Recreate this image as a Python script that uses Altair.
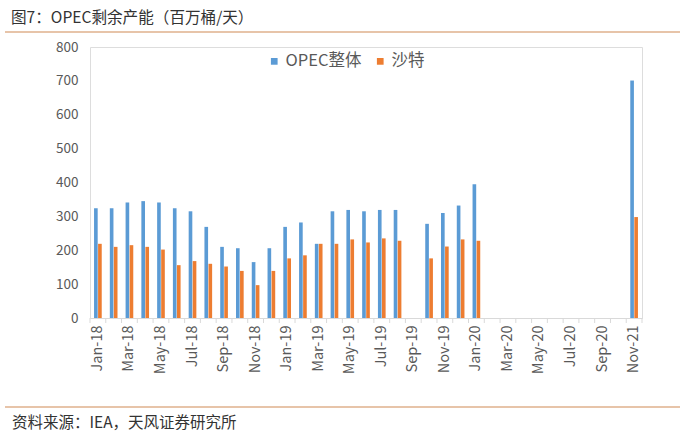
import altair as alt
import pandas as pd

categories = [
    "Jan-18", "Feb-18", "Mar-18", "Apr-18", "May-18", "Jun-18", "Jul-18", "Aug-18",
    "Sep-18", "Oct-18", "Nov-18", "Dec-18", "Jan-19", "Feb-19", "Mar-19", "Apr-19",
    "May-19", "Jun-19", "Jul-19", "Aug-19", "Sep-19", "Oct-19", "Nov-19", "Dec-19",
    "Jan-20", "Feb-20", "Mar-20", "Apr-20", "May-20", "Jun-20", "Jul-20", "Aug-20",
    "Sep-20", "Oct-20", "Nov-21",
]
shown_labels = categories[0::2]

opec = [324, 324, 341, 345, 341, 324, 315, 269, 210, 206, 165, 206, 269, 282, 219, 315,
        319, 315, 319, 319, None, 278, 310, 332, 395, None, None, None, None, None,
        None, None, None, None, 701]
saudi = [219, 210, 215, 210, 202, 156, 168, 160, 152, 139, 97, 139, 176, 185, 219, 219,
         232, 223, 235, 228, None, 176, 211, 232, 228, None, None, None, None, None,
         None, None, None, None, 298]

series_names = ["OPEC整体", "沙特"]
colors = ["#5B9BD5", "#ED7D31"]
title_text = "图7：OPEC剩余产能（百万桶/天）"
source_text = "资料来源：IEA，天风证券研究所"

rows = []
for c, a, b in zip(categories, opec, saudi):
    if a is not None:
        rows.append({"cat": c, "series": series_names[0], "value": a})
    if b is not None:
        rows.append({"cat": c, "series": series_names[1], "value": b})
df = pd.DataFrame(rows)
cat_df = pd.DataFrame({"cat": categories})

FONT = "Noto Sans CJK SC"
W, H = 552, 271

xscale = alt.Scale(domain=categories, paddingInner=0, paddingOuter=0)

bars = alt.Chart(df).mark_bar().encode(
    x=alt.X("cat:N", scale=xscale, sort=categories, title=None,
            axis=alt.Axis(labelAngle=270, labelFontSize=14.5, labelColor="#595959",
                          labelFont=FONT, labelPadding=7, ticks=False,
                          domain=True, domainColor="#D9D9D9", domainWidth=1,
                          labelExpr="indexof(" + str(shown_labels).replace("'", '"') + ", datum.value) >= 0 ? datum.value : ''")),
    xOffset=alt.XOffset("series:N", sort=series_names,
                        scale=alt.Scale(domain=series_names, paddingInner=0.1, paddingOuter=1)),
    y=alt.Y("value:Q", scale=alt.Scale(domain=[0, 800], nice=False), title=None,
            axis=alt.Axis(values=list(range(0, 801, 100)), grid=False, domain=False,
                          ticks=False, labelFontSize=13.5, labelColor="#595959",
                          labelFont=FONT, labelPadding=12)),
    color=alt.Color("series:N", sort=series_names,
                    scale=alt.Scale(domain=series_names, range=colors),
                    legend=alt.Legend(title=None, orient="none", legendX=176, legendY=6,
                                      direction="horizontal", symbolType="square",
                                      symbolSize=45, labelFontSize=16.5, labelFont=FONT,
                                      labelColor="#595959", columnPadding=10,
                                      labelOffset=3, symbolStrokeWidth=0)),
)

ticks = alt.Chart(cat_df).mark_rule(color="#D9D9D9", strokeWidth=1).encode(
    x=alt.X("cat:N", scale=xscale, sort=categories, bandPosition=0),
    y=alt.value(H),
    y2=alt.value(H + 5),
)

end_tick = alt.Chart(cat_df.head(1)).mark_rule(color="#D9D9D9", strokeWidth=1).encode(
    x=alt.value(W), y=alt.value(H), y2=alt.value(H + 5)
)

title = alt.Chart(pd.DataFrame({"t": [title_text]})).mark_text(
    align="left", baseline="middle", fontSize=15.6, font=FONT, color="#333333"
).encode(x=alt.value(-79), y=alt.value(-29), text="t:N")

top_line = alt.Chart(cat_df.head(1)).mark_rule(color="#D08A55", strokeWidth=1.2).encode(
    x=alt.value(-85), x2=alt.value(590), y=alt.value(-15)
)
bottom_line = alt.Chart(cat_df.head(1)).mark_rule(color="#D08A55", strokeWidth=1.2).encode(
    x=alt.value(-85), x2=alt.value(590), y=alt.value(360)
)
source = alt.Chart(pd.DataFrame({"t": [source_text]})).mark_text(
    align="left", baseline="middle", fontSize=15.5, font=FONT, color="#333333"
).encode(x=alt.value(-78), y=alt.value(376), text="t:N")

chart = alt.layer(bars, ticks, end_tick, title, top_line, bottom_line, source).properties(
    width=W, height=H,
    autosize=alt.AutoSizeParams(type="none"),
    padding={"left": 90, "top": 47, "right": 45, "bottom": 122},
).configure_view(stroke=None).configure(background="white")

chart.save("out.html", embed_options={"renderer": "svg", "actions": False})
